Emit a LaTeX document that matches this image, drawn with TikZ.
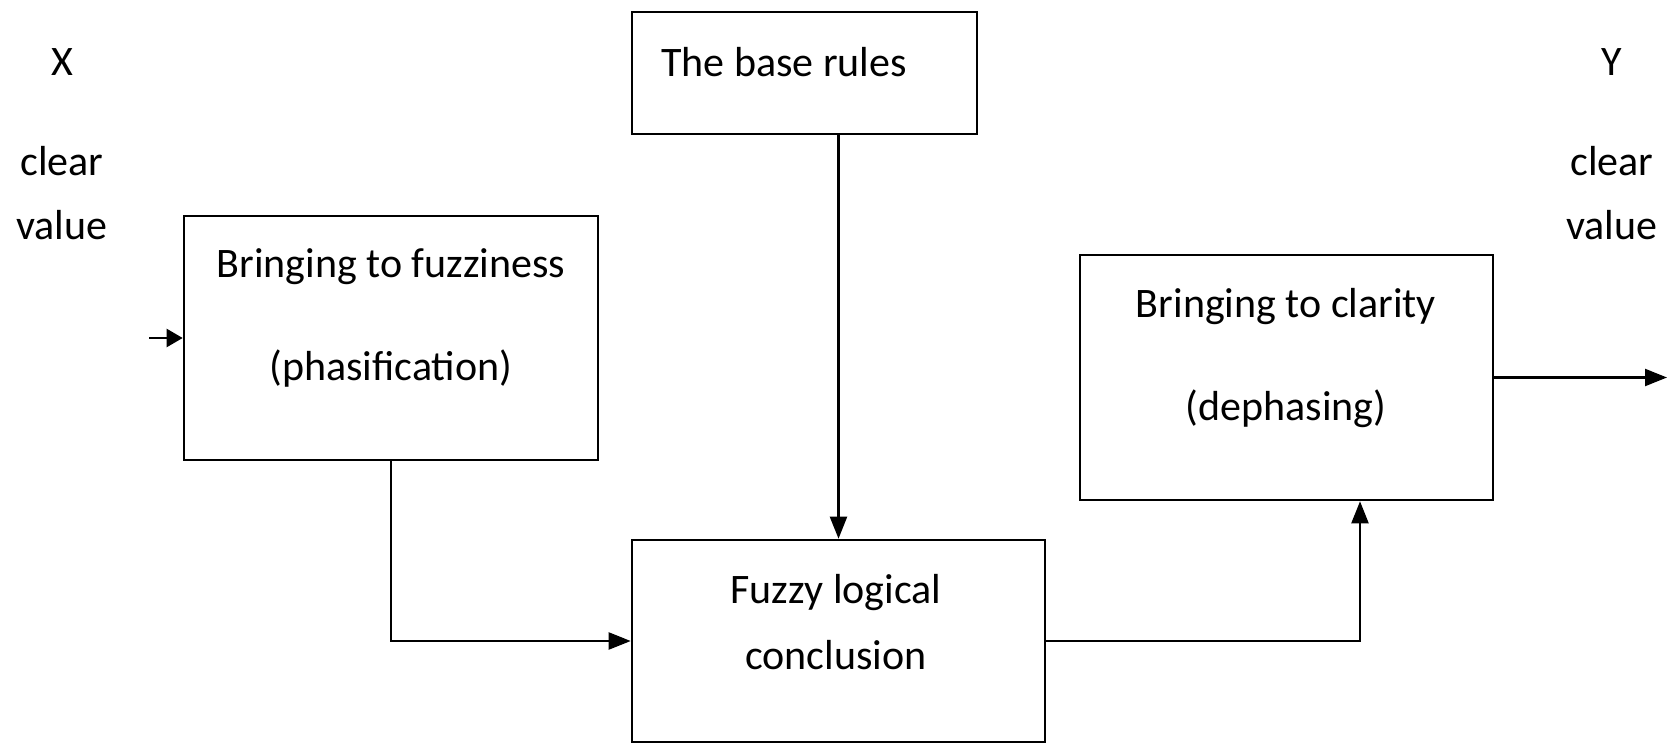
\documentclass[tikz,border=0pt]{standalone}
\usepackage{fontspec}
\setmainfont{Carlito}
\usetikzlibrary{arrows.meta}
\begin{document}
\begin{tikzpicture}[x=1pt,y=-1pt,
  blk/.style={draw=black,line width=2.6pt,rectangle,inner sep=0pt},
  lbl/.style={font=\fontsize{42}{50}\selectfont,inner sep=0pt,anchor=base},
  conn/.style={line width=2.2pt,-{Triangle[length=22pt,width=17pt]}},
  conns/.style={line width=2.2pt,-{Triangle[length=16pt,width=18pt]}}]
\useasboundingbox (0,0) rectangle (1668,743);
% boxes
\node[blk,minimum width=345pt,minimum height=122pt] (base) at (804.5,73) {};
\node[blk,minimum width=414pt,minimum height=244pt] (fuzz) at (391,338) {};
\node[blk,minimum width=413pt,minimum height=245pt] (clar) at (1286.5,377.5) {};
\node[blk,minimum width=413pt,minimum height=202pt] (logic) at (838.5,641) {};
% texts
\node[lbl] (tbase) at (784,77) {The base rules};
\node[lbl] (tf1) at (391,278) {Bringing to fuzziness};
\node[lbl] (tf2) at (391,380) {(phasification)};
\node[lbl] (tc1) at (1286,318) {Bringing to clarity};
\node[lbl] (tc2) at (1286,420) {(dephasing)};
\node[lbl] (tl1) at (836,603) {Fuzzy logical};
\node[lbl] (tl2) at (836,669) {conclusion};
\node[lbl] (x) at (62,76) {X};
\node[lbl] (xc) at (62,176) {clear};
\node[lbl] (xv) at (62,240) {value};
\node[lbl] (y) at (1612,76) {Y};
\node[lbl] (yc) at (1612,176) {clear};
\node[lbl] (yv) at (1612,240) {value};
% connectors
\coordinate (in) at (149,338);
\coordinate (out) at (1667,377.5);
\coordinate (up) at (1360,642);
\draw[conns] (in) -- (fuzz.west);
\draw[conn] (clar.east) -- (out);
\draw[conn] (base.south -| logic.north) -- (logic.north);
\draw[conn] (fuzz.south) |- (logic.west);
\draw[conn] (logic.east) -| (up |- clar.south);
\end{tikzpicture}
\end{document}
